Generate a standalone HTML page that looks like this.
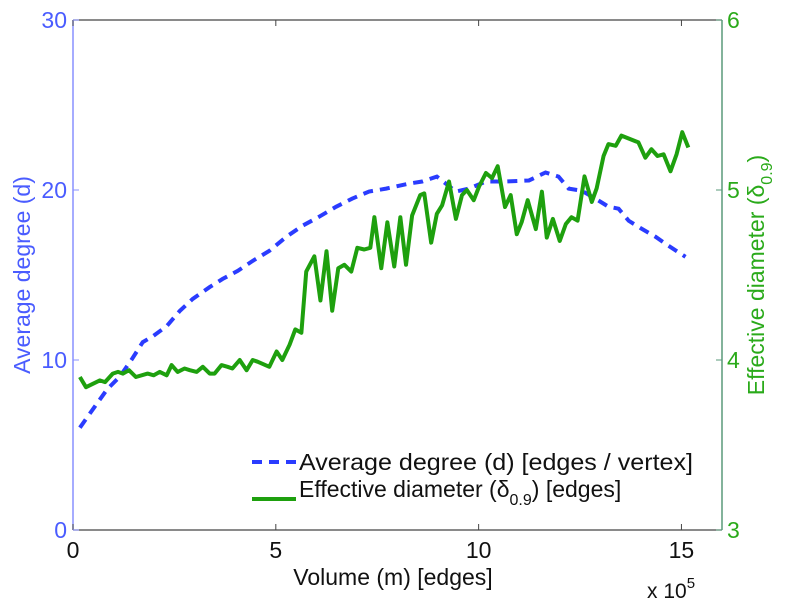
<!DOCTYPE html>
<html><head><meta charset="utf-8"><style>
body{margin:0;background:#fff;width:785px;height:600px;overflow:hidden}
svg{font-family:"Liberation Sans",sans-serif}
</style></head><body>
<svg id="c" width="785" height="600"></svg>
<script>
const greenX=[0.17,0.32,0.66,0.79,0.98,1.11,1.23,1.38,1.55,1.84,1.99,2.14,2.31,2.43,2.58,2.75,2.88,3.05,3.20,3.37,3.49,3.66,3.81,3.93,4.11,4.28,4.43,4.55,4.84,5.02,5.16,5.34,5.48,5.63,5.75,5.95,6.10,6.25,6.39,6.54,6.69,6.86,7.01,7.18,7.33,7.43,7.60,7.75,7.92,8.07,8.21,8.36,8.56,8.66,8.83,8.97,9.10,9.27,9.44,9.59,9.71,9.88,10.01,10.18,10.33,10.47,10.65,10.79,10.94,11.06,11.21,11.41,11.56,11.68,11.83,12.00,12.15,12.29,12.44,12.61,12.79,12.91,13.08,13.20,13.38,13.52,13.94,14.11,14.26,14.41,14.56,14.73,14.88,15.02,15.17];
const greenY=[3.90,3.84,3.88,3.87,3.92,3.93,3.92,3.94,3.90,3.92,3.91,3.93,3.91,3.97,3.93,3.95,3.94,3.93,3.96,3.92,3.92,3.97,3.96,3.95,4.00,3.94,4.00,3.99,3.96,4.05,4.00,4.09,4.18,4.16,4.52,4.61,4.35,4.64,4.29,4.54,4.56,4.52,4.66,4.65,4.66,4.84,4.54,4.81,4.55,4.84,4.56,4.85,4.97,4.98,4.69,4.86,4.91,5.05,4.83,4.97,5.00,4.94,5.02,5.10,5.07,5.14,4.90,4.97,4.74,4.81,4.94,4.77,4.99,4.72,4.83,4.70,4.80,4.84,4.82,5.08,4.93,5.01,5.20,5.27,5.26,5.32,5.28,5.19,5.24,5.20,5.21,5.11,5.21,5.34,5.25];
const blueX=[0.17,0.54,0.84,1.16,1.45,1.72,1.97,2.31,2.63,2.95,3.37,3.69,4.06,4.43,4.84,5.26,5.66,6.07,6.49,6.88,7.30,7.72,8.29,8.61,8.97,9.44,9.76,10.18,10.67,11.24,11.65,11.97,12.22,12.54,12.88,13.20,13.45,13.70,14.02,14.36,14.68,15.10];
const blueY=[6.02,7.27,8.27,9.04,10.04,11.05,11.40,11.99,12.88,13.59,14.29,14.77,15.24,15.83,16.42,17.25,17.90,18.43,19.02,19.49,19.91,20.08,20.38,20.50,20.79,19.91,20.08,20.50,20.50,20.56,21.03,20.79,20.08,19.96,19.49,19.02,18.90,18.19,17.72,17.25,16.72,16.07];
const xTicks=[0,5,10,15];
const leftTicks=[0,10,20,30];
const rightTicks=[3,4,5,6];
const L=73,R=722,T=20,B=530;
const sx=v=>L+v/16*(R-L);
const syL=v=>B-v/30*(B-T);
const syR=v=>B-(v-3)/3*(B-T);
const svg=document.getElementById('c');
const NS='http://www.w3.org/2000/svg';
function mk(tag,attrs,txt){const e=document.createElementNS(NS,tag);for(const k in attrs)e.setAttribute(k,attrs[k]);if(txt!==undefined)e.textContent=txt;svg.appendChild(e);return e;}
const BLUE='#2a3cff',GREEN='#1ea00e',LB='#4a5cff',LG='#2aaa1a',AXB='#8890ff',AXG='#5a9a7a';
let e;
e=mk('line',{x1:L,y1:B,x2:R,y2:B,stroke:'#444','stroke-width':1.2});


e=mk('line',{x1:L,y1:T,x2:R,y2:T,stroke:'#444','stroke-width':1.2});


e=mk('line',{x1:L,y1:T,x2:L,y2:B,stroke:AXB,'stroke-width':1.5});


e=mk('line',{x1:R,y1:T,x2:R,y2:B,stroke:AXG,'stroke-width':1.5});


xTicks.forEach(t=>{
 e=mk('line',{x1:sx(t),y1:B,x2:sx(t),y2:B-6,stroke:'#444'});
 
 
 e=mk('line',{x1:sx(t),y1:T,x2:sx(t),y2:T+6,stroke:'#444'});
 
 
 e=mk('text',{x:sx(t),y:B+28,'text-anchor':'middle','font-size':23,fill:'#111'},t);
 
 
});
leftTicks.forEach(t=>{
 e=mk('line',{x1:L,y1:syL(t),x2:L+6,y2:syL(t),stroke:AXB});
 
 
 e=mk('text',{x:L-6,y:syL(t)+8,'text-anchor':'end','font-size':23,fill:LB},t);
 
 
});
rightTicks.forEach(t=>{
 e=mk('line',{x1:R,y1:syR(t),x2:R-6,y2:syR(t),stroke:AXG});
 
 
 e=mk('text',{x:R+5,y:syR(t)+8,'text-anchor':'start','font-size':23,fill:LG},t);
 
 
});
e=mk('polyline',{points:blueX.map((x,i)=>sx(x)+','+syL(blueY[i])).join(' '),fill:'none',stroke:BLUE,'stroke-width':4,'stroke-dasharray':'10,7'});


e=mk('polyline',{points:greenX.map((x,i)=>sx(x)+','+syR(greenY[i])).join(' '),fill:'none',stroke:GREEN,'stroke-width':4,'stroke-linejoin':'round'});


// legend
e=mk('line',{x1:252,y1:462,x2:296,y2:462,stroke:BLUE,'stroke-width':4,'stroke-dasharray':'10,7'});


e=mk('text',{x:299,y:470,'font-size':23,fill:'#111',textLength:394,lengthAdjust:'spacingAndGlyphs'},'Average degree (d) [edges / vertex]');


e=mk('line',{x1:252,y1:499,x2:296,y2:499,stroke:GREEN,'stroke-width':4});


e=mk('text',{x:299,y:497,'font-size':23,fill:'#111'});


e.innerHTML='Effective diameter (δ<tspan font-size="16" dy="8">0.9</tspan><tspan dy="-8">) [edges]</tspan>';
e=mk('text',{x:393,y:585,'text-anchor':'middle','font-size':23,fill:'#111'},'Volume (m) [edges]');


e=mk('text',{x:647,y:598,'font-size':21,fill:'#111'});


e.innerHTML='x 10<tspan font-size="15" dy="-10">5</tspan>';
e=mk('text',{x:0,y:0,'text-anchor':'middle','font-size':23,fill:LB,transform:'translate(30,275) rotate(-90)'},'Average degree (d)');


e=mk('text',{x:0,y:0,'text-anchor':'middle','font-size':23,fill:LG,transform:'translate(764,275) rotate(-90)'});


e.innerHTML='Effective diameter (δ<tspan font-size="16" dy="8">0.9</tspan><tspan dy="-8">)</tspan>';
</script>
</body></html>
